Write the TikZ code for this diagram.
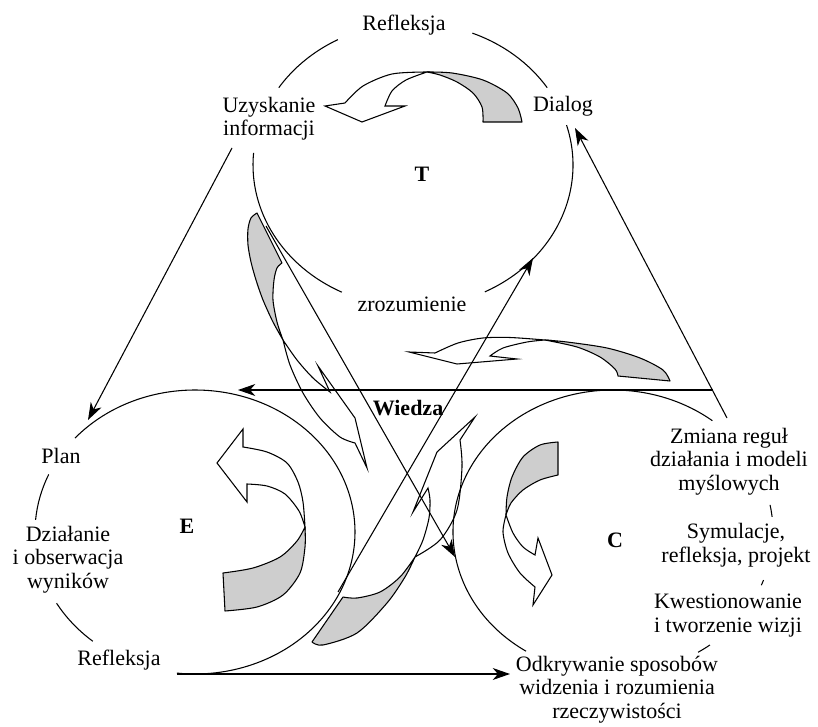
\documentclass[tikz,border=0pt]{standalone}
\usepackage{fontspec}
\setmainfont{Liberation Serif}
\usetikzlibrary{arrows.meta}
\definecolor{bandgray}{RGB}{206,206,206}
% one visible segment of a learning-cycle ring (centre, start angle, end angle)
\newcommand\cyclearc[3]{%
  \draw[ring] #1 ++(#2:160 and 142) arc[start angle=#2, end angle=#3, x radius=160, y radius=142];}
\begin{document}
\begin{tikzpicture}[x=0.75pt, y=-0.75pt,
  txt/.style={font=\fontsize{16.5pt}{17.4pt}\selectfont, inner sep=0pt, align=center, anchor=base},
  bold/.style={txt, font=\fontsize{16.5pt}{17.4pt}\selectfont\bfseries},
  ring/.style={line width=0.8pt},
  link/.style={line width=0.8pt, -{Stealth[length=13pt, width=9pt, inset=4pt]}},
  back/.style={fill=bandgray, draw, line width=0.8pt, line join=round},
  front/.style={fill=white, draw, line width=0.8pt, line join=miter, miter limit=20},
]
\useasboundingbox (0,0) rectangle (818,727);

% ---------- turning bands: grey back face, white front face with head ----------
% T: top band
\path[back] plot[smooth] coordinates {(427,72) (452,73) (483,80) (507,93) (518,108) (522,122)}
  -- (483,122)
  -- plot[smooth] coordinates {(483,122) (482,107) (473,93) (457,82) (440,75) (427,72)} -- cycle;
\path[front] plot[smooth] coordinates {(427,72) (392,74) (363,86) (345,103)}
  -- (325,106) -- (362,122) -- (405,106) -- (385,106)
  -- plot[smooth] coordinates {(385,106) (392,91) (406,80) (427,72)} -- cycle;

% band between T and C
\path[back] plot[smooth] coordinates {(545,340) (567,342) (607,348) (640,358) (663,370) (670,381)}
  -- (618,376)
  -- plot[smooth] coordinates {(618,376) (615,369) (600,357) (577,347) (545,340)} -- cycle;
\path[front] plot[smooth] coordinates {(545,340) (510,337.5) (483,338) (458,343) (435,353)}
  -- (409,352) -- (457,364) -- (517,359) -- (490,356)
  -- plot[smooth] coordinates {(490,356) (503,348) (527,342) (545,340)} -- cycle;

% E: inner band
\path[front] (217,463) -- (243,429) -- (243,447)
  -- plot[smooth] coordinates {(243,447) (267,452) (287,463) (298,482) (303,502) (305,527)}
  -- plot[smooth] coordinates {(305,527) (299,511) (285,494) (267,486) (247,484)}
  -- (247,502) -- cycle;
\path[back] plot[smooth] coordinates {(305,527) (305,547) (300,573) (283,595) (257,607) (225,611)}
  -- (223,573)
  -- plot[smooth] coordinates {(223,573) (253,568) (280,557) (297,541) (305,527)} -- cycle;

% C: inner band
\path[back] (558,475) -- (558,442)
  -- plot[smooth] coordinates {(558,442) (540,445) (523,457) (512,477) (507,497) (506,515)}
  -- plot[smooth] coordinates {(506,515) (511,503) (523,490) (540,480) (558,475)} -- cycle;
\path[front] plot[smooth] coordinates {(506,515) (503,532) (508,553) (520,573) (535,587)}
  -- (533,605) -- (552,575) -- (538,538) -- (535,555)
  -- plot[smooth] coordinates {(535,555) (523,547) (513,533) (506,515)} -- cycle;

% band from T towards E
\path[back] plot[smooth] coordinates {(257,213) (251,218) (248,229) (248,245) (251,262) (256,280) (263,300) (273,322) (283,340)}
  -- plot[smooth] coordinates {(283,340) (277,322) (273,300) (274,280) (277,268) (282,263)} -- cycle;
\path[front] plot[smooth] coordinates {(283,340) (297,360) (313,378) (330,392)}
  -- (318,366) -- (355,418) -- (367,468) -- (355,443)
  -- plot[smooth] coordinates {(355,443) (340,437) (320,418) (303,393) (290,365) (283,340)} -- cycle;

% band from E towards T
\path[back] (312,642) -- (343,597)
  -- plot[smooth] coordinates {(343,597) (357,598) (380,592) (400,577) (415,557)}
  -- plot[smooth] coordinates {(415,557) (405,577) (387,603) (357,633) (323,645) (312,642)} -- cycle;
\path[front] plot[smooth] coordinates {(415,557) (423,540) (429,518) (430,500) (428,488)}
  -- (413,512) -- (437,452) -- (475,417) -- (460,440)
  -- plot[smooth] coordinates {(460,440) (462,467) (457,510) (440,540) (415,557)} -- cycle;

% ---------- rings ----------
% T
\cyclearc{(413,165)}{-68.2}{-33}
\cyclearc{(413,165)}{-16.3}{63.3}
\cyclearc{(413,165)}{116.4}{184.9}
\cyclearc{(413,165)}{213}{242}
% E
\cyclearc{(195,532)}{221.4}{456.5}
\cyclearc{(195,532)}{184.9}{203.9}
\cyclearc{(195,532)}{129.7}{149.9}
% C
\cyclearc{(613,532)}{122.9}{308.4}
\cyclearc{(613,532)}{-11}{-6.1}
\cyclearc{(613,532)}{19.8}{22}
\cyclearc{(613,532)}{52.7}{57.9}

% ---------- labels (base = baseline of the last line) ----------
\node[txt] (refT) at (404,31) {Refleksja};
\node[txt] (uzysk) at (269,136) {Uzyskanie\\informacji};
\node[txt] (dialog) at (563,112) {Dialog};
\node[bold] (lT) at (422,182) {T};
\node[txt] (zroz) at (412,312) {zrozumienie};
\node[bold] (wiedza) at (408,416) {Wiedza};
\node[txt] (plan) at (61,464) {Plan};
\node[txt] (dzial) at (68,588) {Działanie\\i obserwacja\\wyników};
\node[txt] (refE) at (119,665) {Refleksja};
\node[bold] (lE) at (187,533) {E};
\node[bold] (lC) at (615,547) {C};
\node[txt] (zmiana) at (729,490) {Zmiana reguł\\działania i modeli\\myślowych};
\node[txt] (symul) at (736,562) {Symulacje,\\refleksja, projekt};
\node[txt] (kwest) at (728,632) {Kwestionowanie\\i tworzenie wizji};
\node[txt] (odkr) at (617,718) {Odkrywanie sposobów\\widzenia i rozumienia\\rzeczywistości};

% ---------- connectors ----------
\coordinate (uzOut) at (232,148);
\coordinate (eTop) at (88,420);
\coordinate (zmOut) at (727,418);
\coordinate (dlIn) at (575,128);
\coordinate (wStart) at (713,390);
\coordinate (wEnd) at (238,390);
\coordinate (bStart) at (177,674);
\coordinate (bEnd) at (510,674);
\coordinate (tOut) at (266,226);
\coordinate (cIn) at (455,557);
\coordinate (eOut) at (338,592);
\coordinate (tIn) at (533,258);
\draw[link] (uzOut) -- (eTop);
\draw[link] (zmOut) -- (dlIn);
\draw[link] (wStart) -- (wEnd);
\draw[link] (bStart) -- (bEnd);
\draw[link] (tOut) -- (cIn);
\draw[link] (eOut) -- (tIn);
\end{tikzpicture}
\end{document}
